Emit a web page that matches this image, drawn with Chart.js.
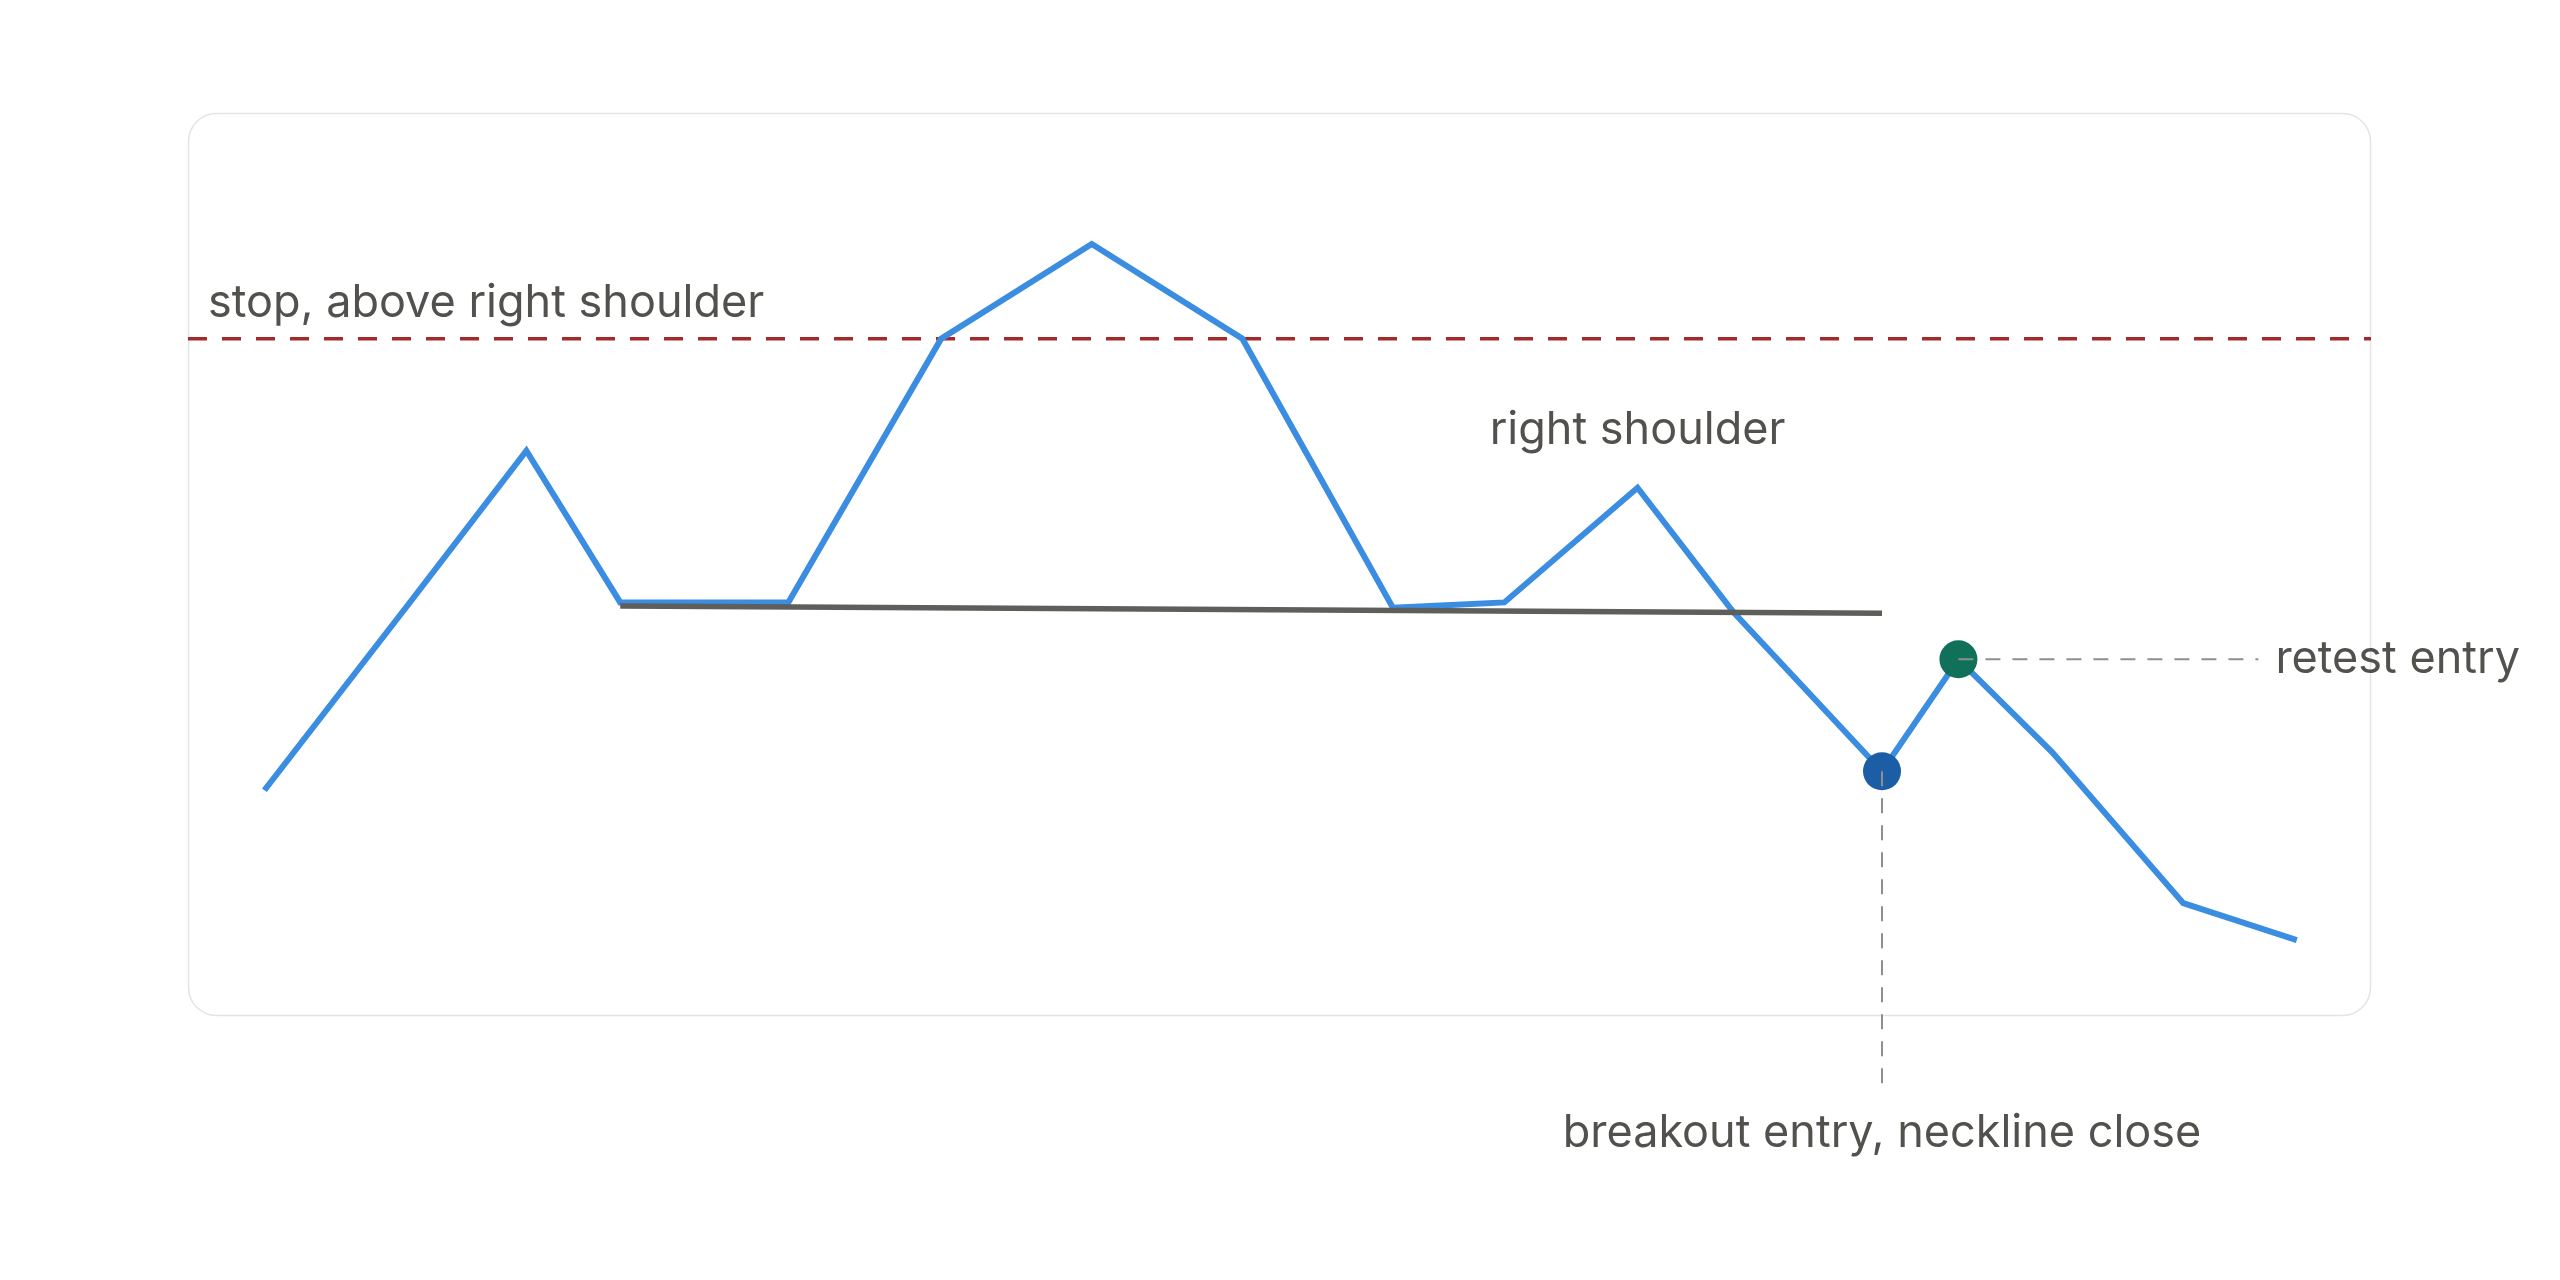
<!DOCTYPE html>
<html lang="en">
<head>
    <meta charset="UTF-8">
    <title>Head and shoulders entries</title>
    <script src="https://cdn.jsdelivr.net/npm/chart.js"></script>
    <style>
        html, body {
            margin: 0;
            padding: 0;
            background: #ffffff;
        }

        #wrap {
            position: relative;
            width: 2560px;
            height: 1280px;
        }
    </style>
</head>
<body>

    <div id="wrap"><canvas id="patternChart"></canvas></div>

    <script>
        // price path, x in session units (0-100), y on a 0-100 price scale
        const sessions = [3.5, 10.1, 15.5, 19.8, 27.5, 34.5, 41.4, 48.3, 55.2, 60.3, 66.4, 70.8, 77.6, 81.1, 85.4, 91.4, 96.6];
        const prices = [25.0, 45.6, 62.6, 45.8, 45.8, 75.0, 85.5, 75.0, 45.2, 45.8, 58.5, 44.7, 27.1, 39.5, 29.2, 12.5, 8.4];

        const necklineX = [19.8, 77.6];
        const necklineY = [45.4, 44.6];

        const stopLevel = 75;
        const breakoutIndex = 12;
        const retestIndex = 13;

        const stopLabel = 'stop, above right shoulder';
        const shoulderLabel = 'right shoulder';
        const shoulderIndex = 10;
        const breakoutLabel = 'breakout entry, neckline close';
        const retestLabel = 'retest entry';

        const textColor = '#52514e';
        const labelFont = '45px Inter, "Noto Sans", sans-serif';

        const cardPlugin = {
            id: 'card',
            beforeDraw(chart) {
                const a = chart.chartArea;
                const ctx = chart.ctx;
                ctx.save();
                ctx.beginPath();
                ctx.roundRect(a.left + 0.5, a.top + 0.5, a.right - a.left - 1, a.bottom - a.top - 1, 28);
                ctx.fillStyle = '#ffffff';
                ctx.fill();
                ctx.lineWidth = 1.5;
                ctx.strokeStyle = '#e4e4e4';
                ctx.stroke();
                ctx.restore();
            }
        };

        const notesPlugin = {
            id: 'notes',
            afterDatasetsDraw(chart) {
                const ctx = chart.ctx;
                const a = chart.chartArea;
                const x = chart.scales.x;
                const y = chart.scales.y;

                const bx = x.getPixelForValue(sessions[breakoutIndex]);
                const by = y.getPixelForValue(prices[breakoutIndex]);
                const rx = x.getPixelForValue(sessions[retestIndex]);
                const ry = y.getPixelForValue(prices[retestIndex]);

                ctx.save();
                // guide lines
                ctx.strokeStyle = '#8f8f8f';
                ctx.lineWidth = 2;
                ctx.setLineDash([15, 12]);
                ctx.beginPath();
                ctx.moveTo(bx, by);
                ctx.lineTo(bx, a.bottom + 74);
                ctx.moveTo(rx, ry);
                ctx.lineTo(rx + 300, ry);
                ctx.stroke();
                ctx.setLineDash([]);

                // labels
                ctx.fillStyle = textColor;
                ctx.font = labelFont;
                ctx.textBaseline = 'alphabetic';

                ctx.textAlign = 'left';
                ctx.fillText(stopLabel, a.left + 20, y.getPixelForValue(stopLevel) - 22);

                ctx.textAlign = 'center';
                ctx.fillText(shoulderLabel, x.getPixelForValue(sessions[shoulderIndex]), y.getPixelForValue(prices[shoulderIndex]) - 44);
                ctx.fillText(breakoutLabel, bx, a.bottom + 131);

                ctx.textAlign = 'left';
                ctx.textBaseline = 'middle';
                ctx.fillText(retestLabel, rx + 317, ry);
                ctx.restore();
            }
        };

        const pointPairs = sessions.map((s, i) => ({ x: s, y: prices[i] }));
        const radii = sessions.map((s, i) => (i === breakoutIndex || i === retestIndex) ? 19 : 0);
        const dotColors = sessions.map((s, i) => i === retestIndex ? '#10705a' : '#1b5ea5');

        const ctx = document.getElementById('patternChart').getContext('2d');
        new Chart(ctx, {
            type: 'line',
            data: {
                datasets: [
                    {
                        label: 'neckline',
                        data: necklineX.map((v, i) => ({ x: v, y: necklineY[i] })),
                        borderColor: '#5e5e5a',
                        borderWidth: 5.5,
                        pointRadius: 0,
                        order: 1
                    },
                    {
                        label: 'stop',
                        data: [{ x: 0, y: stopLevel }, { x: 100, y: stopLevel }],
                        borderColor: '#a3292b',
                        borderWidth: 3.5,
                        borderDash: [19, 15],
                        pointRadius: 0,
                        order: 3
                    },
                    {
                        label: 'price',
                        data: pointPairs,
                        borderColor: '#3a8de0',
                        borderWidth: 6,
                        pointRadius: radii,
                        pointBackgroundColor: dotColors,
                        pointBorderWidth: 0,
                        borderJoinStyle: 'miter',
                        tension: 0,
                        order: 2
                    }
                ]
            },
            options: {
                responsive: true,
                maintainAspectRatio: false,
                devicePixelRatio: 1,
                animation: false,
                events: [],
                layout: {
                    padding: { left: 188, right: 189, top: 113, bottom: 264 }
                },
                plugins: {
                    legend: { display: false },
                    tooltip: { enabled: false }
                },
                scales: {
                    x: { type: 'linear', min: 0, max: 100, display: false },
                    y: { min: 0, max: 100, display: false }
                }
            },
            plugins: [cardPlugin, notesPlugin]
        });
    </script>
</body>
</html>
